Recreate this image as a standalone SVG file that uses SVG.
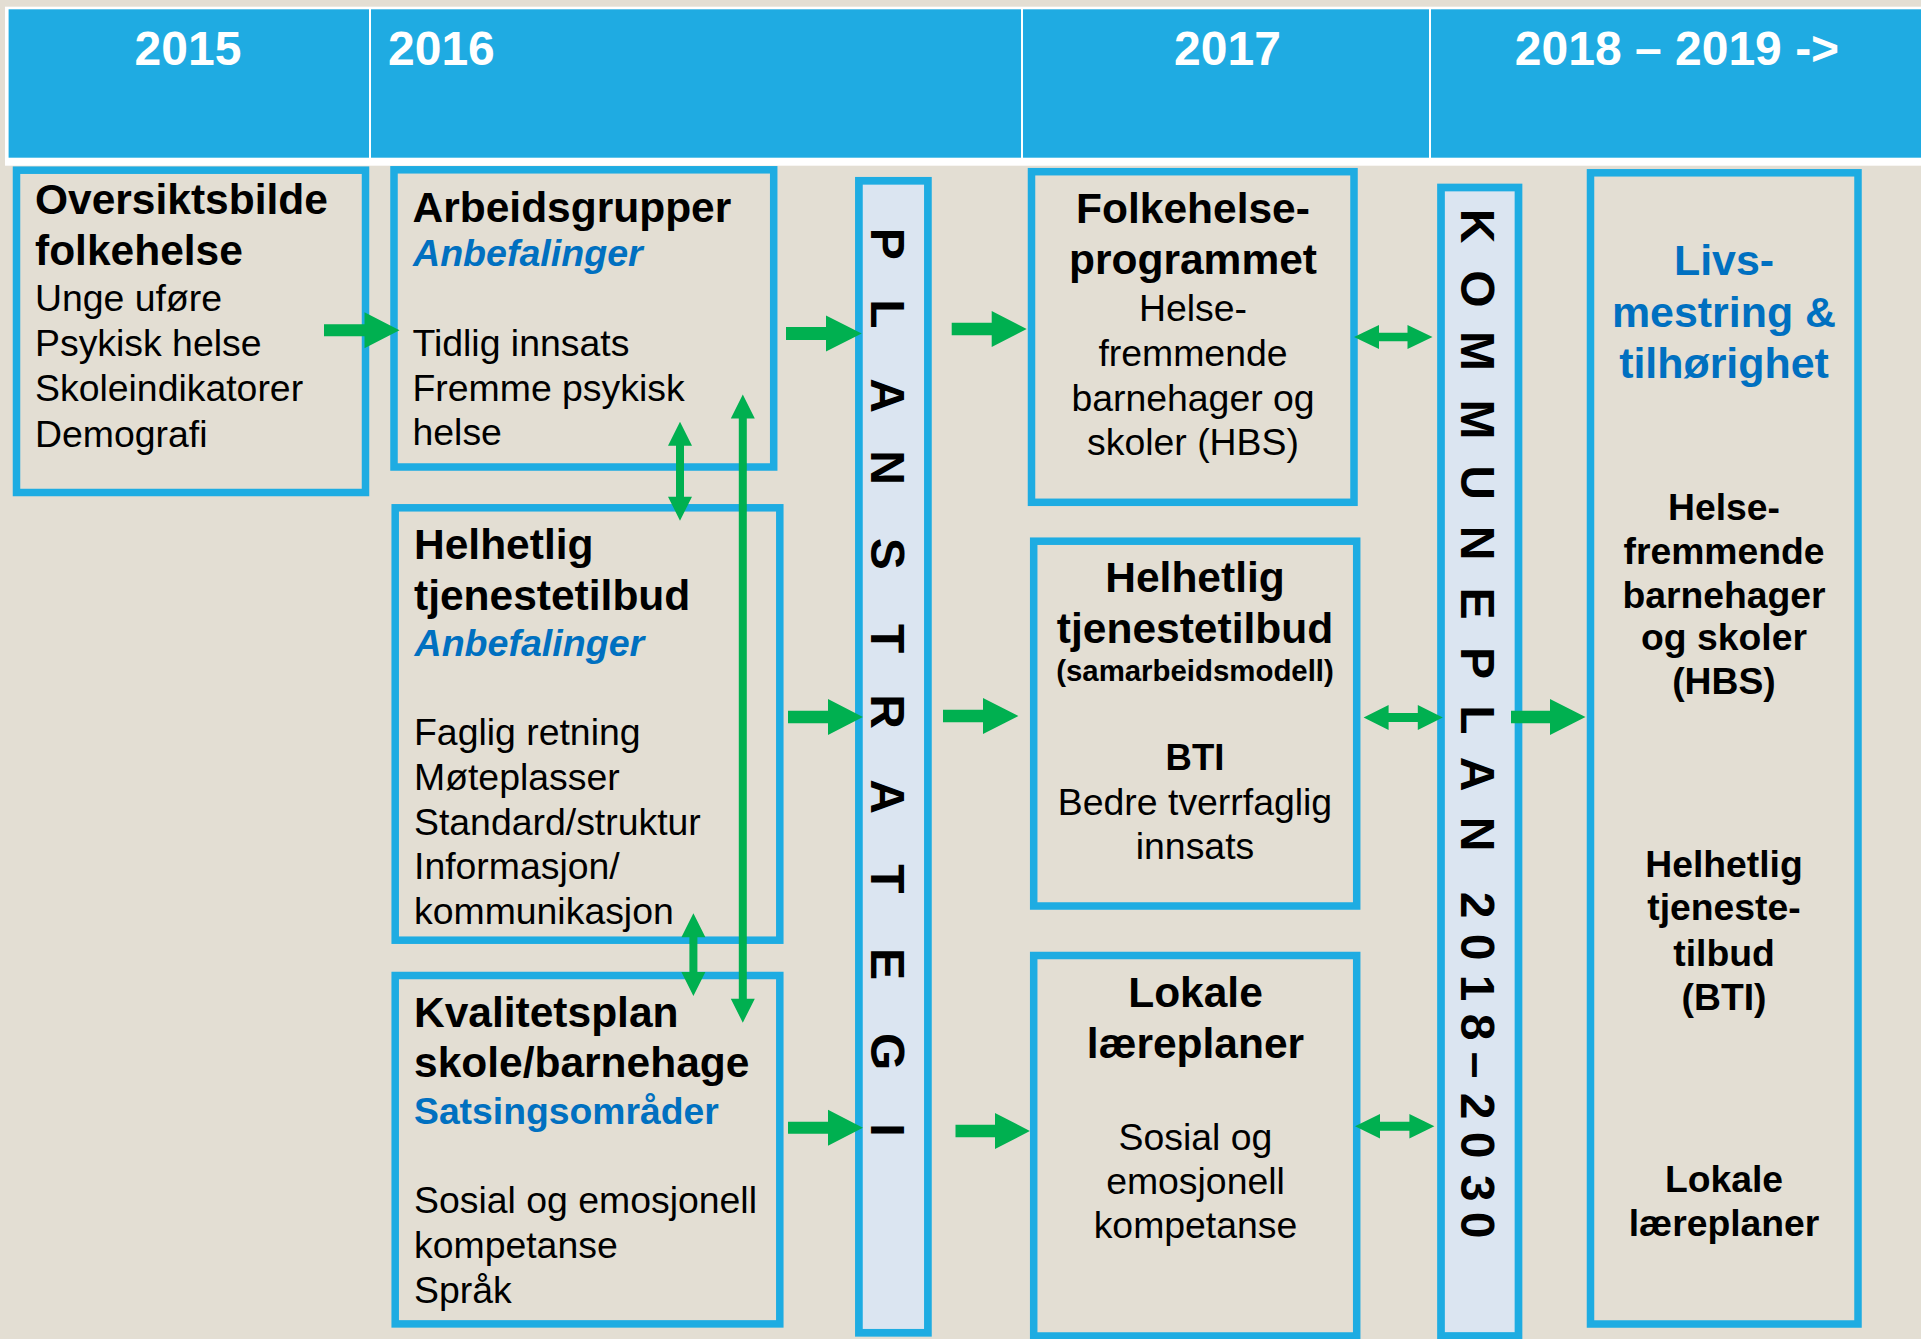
<svg xmlns="http://www.w3.org/2000/svg" width="1921" height="1339" viewBox="0 0 1921 1339">
<style>
text{font-family:"Liberation Sans",Arial,sans-serif}
.box{fill:none;stroke:#1eace2;stroke-width:7.5}
.bar{fill:#dbe5f1;stroke:#1eace2;stroke-width:7.7}
.hd{font-weight:bold;font-size:48px;fill:#fff}
.b{font-weight:bold;font-size:42.5px;fill:#000}
.r{font-size:37.4px;fill:#000}
.bi{font-weight:bold;font-style:italic;font-size:37.6px;fill:#0070c0}
.bs{font-weight:bold;font-size:37.3px;fill:#0070c0}
.sm{font-weight:bold;font-size:29.4px;fill:#000}
.bti{font-weight:bold;font-size:36.5px;fill:#000}
.rb{font-weight:bold;font-size:42.9px;fill:#0070c0}
.rk{font-weight:bold;font-size:37.3px;fill:#000}
.vl{font-weight:bold;font-size:48px;fill:#000}
.c{text-anchor:middle}
.arr{fill:#00b050}
</style>
<rect x="0" y="0" width="1921" height="1339" fill="#e3ded3"/>
<g id="header">
<rect x="5" y="6.7" width="1916" height="159" fill="#fff"/>
<rect x="8.6" y="9.3" width="1913" height="148.4" fill="#1fabe2"/>
<rect x="369" y="9" width="2" height="149" fill="#fff"/>
<rect x="1021" y="9" width="2" height="149" fill="#fff"/>
<rect x="1429" y="9" width="2" height="149" fill="#fff"/>
<text class="hd c" x="188" y="65">2015</text>
<text class="hd" x="388" y="65">2016</text>
<text class="hd c" x="1227.5" y="65">2017</text>
<text class="hd c" x="1677" y="65">2018 – 2019 -&gt;</text>
</g>
<g id="n-oversikt">
<rect class="box" x="16.5" y="170.2" width="349" height="322.3"/>
<text class="b" x="35" y="214">Oversiktsbilde</text>
<text class="b" x="35" y="264.5">folkehelse</text>
<text class="r" x="35" y="310.5">Unge uføre</text>
<text class="r" x="35" y="355.5">Psykisk helse</text>
<text class="r" x="35" y="401">Skoleindikatorer</text>
<text class="r" x="35" y="446.5">Demografi</text>
</g>
<g id="n-arbeidsgrupper">
<rect class="box" x="394" y="169.8" width="379.7" height="297.2"/>
<text class="b" x="412.5" y="221.5">Arbeidsgrupper</text>
<text class="bi" x="413" y="266.3">Anbefalinger</text>
<text class="r" x="412.5" y="355.5">Tidlig innsats</text>
<text class="r" x="412.5" y="400.5">Fremme psykisk</text>
<text class="r" x="412.5" y="445">helse</text>
</g>
<g id="n-helhetlig-2016">
<rect class="box" x="395.2" y="507.8" width="384.6" height="432.4"/>
<text class="b" x="414" y="559.3">Helhetlig</text>
<text class="b" x="414" y="609.5">tjenestetilbud</text>
<text class="bi" x="414.5" y="656">Anbefalinger</text>
<text class="r" x="414" y="745">Faglig retning</text>
<text class="r" x="414" y="789.5">Møteplasser</text>
<text class="r" x="414" y="834.5">Standard/struktur</text>
<text class="r" x="414" y="879.3">Informasjon/</text>
<text class="r" x="414" y="924.3">kommunikasjon</text>
</g>
<g id="n-kvalitetsplan">
<rect class="box" x="395.2" y="975.5" width="384.6" height="348.4"/>
<text class="b" x="414" y="1027.2">Kvalitetsplan</text>
<text class="b" x="414" y="1077.2">skole/barnehage</text>
<text class="bs" x="414" y="1123.5">Satsingsområder</text>
<text class="r" x="414" y="1212.7">Sosial og emosjonell</text>
<text class="r" x="414" y="1257.7">kompetanse</text>
<text class="r" x="414" y="1302.7">Språk</text>
</g>
<g id="n-planstrategi">
<rect class="bar" x="858.9" y="180.8" width="69" height="1152"/>
<text class="vl c" transform="translate(871,0) rotate(90)" x="243.7 314 395.5 467.5 553.7 638.7 711.7 796.7 879 964 1051.7 1130" y="0">PLANSTRATEGI</text>
</g>
<g id="n-folkehelseprogrammet">
<rect class="box" x="1031.5" y="171.7" width="322.5" height="330.6"/>
<text class="b c" x="1193" y="223.2">Folkehelse-</text>
<text class="b c" x="1193" y="273.8">programmet</text>
<text class="r c" x="1193" y="320.8">Helse-</text>
<text class="r c" x="1193" y="365.5">fremmende</text>
<text class="r c" x="1193" y="410.8">barnehager og</text>
<text class="r c" x="1193" y="455">skoler (HBS)</text>
</g>
<g id="n-helhetlig-2017">
<rect class="box" x="1033.7" y="541.2" width="323" height="364.8"/>
<text class="b c" x="1195" y="592.2">Helhetlig</text>
<text class="b c" x="1195" y="643.2">tjenestetilbud</text>
<text class="sm c" x="1195" y="680.5">(samarbeidsmodell)</text>
<text class="bti c" x="1195" y="770">BTI</text>
<text class="r c" x="1195" y="815.3">Bedre tverrfaglig</text>
<text class="r c" x="1195" y="859.3">innsats</text>
</g>
<g id="n-lokale-2017">
<rect class="box" x="1033.7" y="955.5" width="323" height="380.5"/>
<text class="b c" x="1195.5" y="1007.2">Lokale</text>
<text class="b c" x="1195.5" y="1058.2">læreplaner</text>
<text class="r c" x="1195.5" y="1149.8">Sosial og</text>
<text class="r c" x="1195.5" y="1194.2">emosjonell</text>
<text class="r c" x="1195.5" y="1238.2">kompetanse</text>
</g>
<g id="n-kommuneplan">
<rect class="bar" x="1441" y="187.5" width="77.5" height="1148.5"/>
<text class="vl c" transform="translate(1461,0) rotate(90)" x="226 289 351 419.5 482.5 543 603.5 663 720 774 834 905 947 988 1027 1065 1106 1145 1188 1225" y="0">KOMMUNEPLAN2018–2030</text>
</g>
<g id="n-livsmestring">
<rect class="box" x="1590.5" y="172.8" width="267.5" height="1151.2"/>
<text class="rb c" x="1724" y="274.8">Livs-</text>
<text class="rb c" x="1724" y="326.5">mestring &amp;</text>
<text class="rb c" x="1724" y="378.1">tilhørighet</text>
<text class="rk c" x="1724" y="519.7">Helse-</text>
<text class="rk c" x="1724" y="563.7">fremmende</text>
<text class="rk c" x="1724" y="607.8">barnehager</text>
<text class="rk c" x="1724" y="649.9">og skoler</text>
<text class="rk c" x="1724" y="693.9">(HBS)</text>
<text class="rk c" x="1724" y="876.6">Helhetlig</text>
<text class="rk c" x="1724" y="919.9">tjeneste-</text>
<text class="rk c" x="1724" y="965.8">tilbud</text>
<text class="rk c" x="1724" y="1009.8">(BTI)</text>
<text class="rk c" x="1724" y="1191.6">Lokale</text>
<text class="rk c" x="1724" y="1235.6">læreplaner</text>
</g>
<g id="connectors">
<polygon class="arr" points="324,324.3 364.5,324.3 364.5,312.3 399.5,330.3 364.5,348.3 364.5,336.3 324,336.3"/>
<polygon class="arr" points="786,327 826,327 826,315.5 861.7,333.5 826,351.5 826,340 786,340"/>
<polygon class="arr" points="951.7,322.8 991.7,322.8 991.7,311 1026.7,329 991.7,347 991.7,335.2 951.7,335.2"/>
<polygon class="arr" points="788,710.7 828,710.7 828,699 862.9,717 828,735 828,723.3 788,723.3"/>
<polygon class="arr" points="943,709.7 983,709.7 983,698 1018.4,716 983,734 983,722.3 943,722.3"/>
<polygon class="arr" points="788,1121.8 828,1121.8 828,1109.8 862.9,1127.8 828,1145.8 828,1133.8 788,1133.8"/>
<polygon class="arr" points="955.5,1124.7 995,1124.7 995,1113 1029.9,1131 995,1149 995,1137.3 955.5,1137.3"/>
<polygon class="arr" points="1511,710.7 1550,710.7 1550,699 1585.5,717 1550,735 1550,723.3 1511,723.3"/>
<polygon class="arr" points="1354,337 1379,325 1379,332.7 1407.5,332.7 1407.5,325 1432.5,337 1407.5,349 1407.5,341.3 1379,341.3 1379,349"/>
<polygon class="arr" points="1363.6,717.5 1388.6,705 1388.6,713 1417.8,713 1417.8,705 1442.8,717.5 1417.8,730 1417.8,722 1388.6,722 1388.6,730"/>
<polygon class="arr" points="1355,1126.2 1380,1114 1380,1121.7 1409.4,1121.7 1409.4,1114 1434.4,1126.2 1409.4,1138.4 1409.4,1130.7 1380,1130.7 1380,1138.4"/>
<polygon class="arr" points="680,421.7 692,445.7 684,445.7 684,496.7 692,496.7 680,520.7 668,496.7 676,496.7 676,445.7 668,445.7"/>
<polygon class="arr" points="742.8,394.5 754.8,418.5 746.8,418.5 746.8,998.7 754.8,998.7 742.8,1022.7 730.8,998.7 738.8,998.7 738.8,418.5 730.8,418.5"/>
<polygon class="arr" points="693.4,913.3 705.4,937.3 697.4,937.3 697.4,972 705.4,972 693.4,996 681.4,972 689.4,972 689.4,937.3 681.4,937.3"/>
</g>
</svg>
